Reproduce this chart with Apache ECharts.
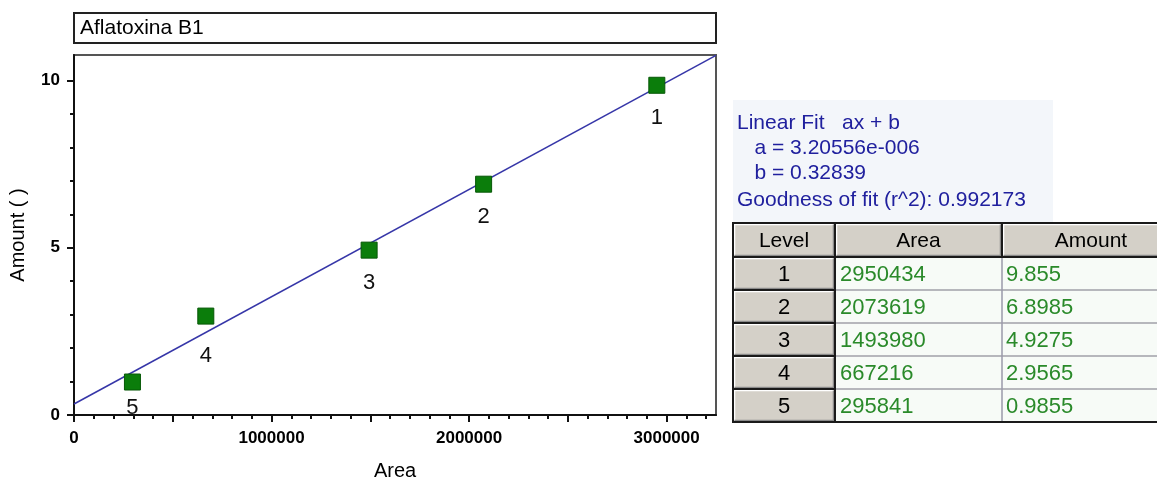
<!DOCTYPE html>
<html><head><meta charset="utf-8">
<script src="https://cdn.jsdelivr.net/npm/echarts@6/dist/echarts.min.js"></script>
<style>html,body{margin:0;padding:0;background:#fff;overflow:hidden}#c{width:1157px;height:486px}</style>
</head><body><div id="c"></div>
<script>
// ---- data ----
const chartTitle = 'Aflatoxina B1';
const levels = ['1', '2', '3', '4', '5'];
const areas = [2950434, 2073619, 1493980, 667216, 295841];
const amounts = [9.855, 6.8985, 4.9275, 2.9565, 0.9855];
const fitLine = [[0, 0.32839], [3250000, 10.7465]];
const fitText = ['Linear Fit   ax + b', '   a = 3.20556e-006', '   b = 0.32839', 'Goodness of fit (r^2): 0.992173'];
const tableHeader = ['Level', 'Area', 'Amount'];
const xTickLabels = [0, 1000000, 2000000, 3000000];
const yTickLabels = [0, 5, 10];
const xMajorTicks = [0, 500000, 1000000, 1500000, 2000000, 2500000, 3000000];
const xMinorTicks = [100000, 200000, 300000, 400000, 600000, 700000, 800000, 900000, 1100000, 1200000, 1300000, 1400000, 1600000, 1700000, 1800000, 1900000, 2100000, 2200000, 2300000, 2400000, 2600000, 2700000, 2800000, 2900000, 3100000, 3200000];
const yMinorTicks = [1, 2, 3, 4, 6, 7, 8, 9];
const xName = 'Area';
const yName = 'Amount ( )';

// ---- styling ----
const FONT = 'Liberation Sans, Arial, sans-serif';
const X_MAX = 3250000, Y_MAX = 10.76;
const labelDistance = { 3: 20, 4: 6 }; // per-index tweak of label distance
const chart = echarts.init(document.getElementById('c'), null, { renderer: 'canvas' });

const graphics = [];
// title box
graphics.push({ type: 'rect', shape: { x: 74, y: 13, width: 642, height: 30 }, style: { fill: '#fff', stroke: '#222', lineWidth: 2 }, z: 1 });
graphics.push({ type: 'text', x: 80, y: 28, style: { text: chartTitle, font: '21px ' + FONT, fill: '#000', verticalAlign: 'middle' }, z: 2 });
// fit panel
graphics.push({ type: 'rect', shape: { x: 733, y: 100, width: 320, height: 122 }, style: { fill: '#f3f6fa' }, z: 1 });
const fitY = [123, 148, 173, 200];
fitText.forEach((t, i) => graphics.push({ type: 'text', x: 737, y: fitY[i], style: { text: t, font: '21px ' + FONT, fill: '#20209e', verticalAlign: 'middle' }, z: 2 }));

// table
const colX = [733, 835, 1002, 1180];
const headTop = 223, headH = 34, rowH = 33;
const tableBottom = headTop + headH + rowH * levels.length;
function raised(x, y, w, h) {
  graphics.push({ type: 'rect', shape: { x: x, y: y, width: w, height: h }, style: { fill: '#d4d0c8' }, z: 3 });
  graphics.push({ type: 'polyline', shape: { points: [[x + 1.5, y + h - 1.5], [x + 1.5, y + 1.5], [x + w - 1.5, y + 1.5]] }, style: { stroke: '#ffffff', lineWidth: 1.5, fill: null }, z: 4 });
  graphics.push({ type: 'polyline', shape: { points: [[x + 1.5, y + h - 1.5], [x + w - 1.5, y + h - 1.5], [x + w - 1.5, y + 1.5]] }, style: { stroke: '#8a8a8a', lineWidth: 1.5, fill: null }, z: 4 });
}
// header
tableHeader.forEach((h, c) => {
  raised(colX[c], headTop, colX[c + 1] - colX[c], headH);
  graphics.push({ type: 'text', x: (colX[c] + colX[c + 1]) / 2, y: headTop + headH / 2 + 1, style: { text: h, font: '21px ' + FONT, fill: '#000', align: 'center', verticalAlign: 'middle' }, z: 6 });
});
// rows
levels.forEach((lv, r) => {
  const y = headTop + headH + r * rowH;
  raised(colX[0], y, colX[1] - colX[0], rowH);
  graphics.push({ type: 'text', x: (colX[0] + colX[1]) / 2, y: y + rowH / 2 + 1, style: { text: lv, font: '22px ' + FONT, fill: '#000', align: 'center', verticalAlign: 'middle' }, z: 6 });
  graphics.push({ type: 'rect', shape: { x: colX[1], y: y, width: colX[3] - colX[1], height: rowH }, style: { fill: '#f7fbf7' }, z: 3 });
  graphics.push({ type: 'text', x: colX[1] + 5, y: y + rowH / 2 + 1, style: { text: String(areas[r]), font: '22px ' + FONT, fill: '#2a8a2a', verticalAlign: 'middle' }, z: 6 });
  graphics.push({ type: 'text', x: colX[2] + 4, y: y + rowH / 2 + 1, style: { text: String(amounts[r]), font: '22px ' + FONT, fill: '#2a8a2a', verticalAlign: 'middle' }, z: 6 });
  // row separators
  graphics.push({ type: 'line', shape: { x1: colX[0], y1: y, x2: colX[1], y2: y }, style: { stroke: '#1a1a1a', lineWidth: 2 }, z: 5 });
  if (r > 0) graphics.push({ type: 'line', shape: { x1: colX[1], y1: y, x2: colX[3], y2: y }, style: { stroke: '#a0a0a8', lineWidth: 1.5 }, z: 5 });
});
// vertical separators
graphics.push({ type: 'line', shape: { x1: colX[2], y1: headTop + headH, x2: colX[2], y2: tableBottom }, style: { stroke: '#9a9aaa', lineWidth: 1.5 }, z: 5 });
graphics.push({ type: 'line', shape: { x1: colX[2], y1: headTop, x2: colX[2], y2: headTop + headH }, style: { stroke: '#1a1a1a', lineWidth: 2 }, z: 5 });
graphics.push({ type: 'line', shape: { x1: colX[1], y1: headTop, x2: colX[1], y2: tableBottom }, style: { stroke: '#1a1a1a', lineWidth: 2 }, z: 5 });
graphics.push({ type: 'line', shape: { x1: colX[0], y1: headTop + headH, x2: colX[3], y2: headTop + headH }, style: { stroke: '#1a1a1a', lineWidth: 2 }, z: 5 });
graphics.push({ type: 'rect', shape: { x: colX[0], y: headTop, width: colX[3] - colX[0], height: tableBottom - headTop }, style: { fill: null, stroke: '#1a1a1a', lineWidth: 2 }, z: 5 });

const axisText = { fontFamily: FONT, fontSize: 17, fontWeight: 'bold', color: '#000' };
const option = {
  animation: false,
  backgroundColor: '#fff',
  grid: { left: 74, right: 441, top: 55, bottom: 63, show: true, borderColor: '#555', borderWidth: 2, backgroundColor: '#fff' },
  xAxis: [
    {
      type: 'value', min: 0, max: X_MAX, position: 'bottom',
      name: xName, nameLocation: 'middle', nameGap: 46,
      nameTextStyle: { fontFamily: FONT, fontSize: 20, color: '#000' },
      axisLine: { show: true, onZero: false, lineStyle: { color: '#111', width: 2 } },
      axisTick: { show: true, length: 7, customValues: xMajorTicks, lineStyle: { color: '#111', width: 2 } },
      axisLabel: Object.assign({ customValues: xTickLabels, margin: 15, formatter: v => String(v) }, axisText),
      splitLine: { show: false }
    },
    {
      type: 'value', min: 0, max: X_MAX, position: 'bottom', gridIndex: 0,
      axisLine: { show: false, onZero: false },
      axisTick: { show: true, length: 4, customValues: xMinorTicks, lineStyle: { color: '#111', width: 2 } },
      axisLabel: { show: false }, splitLine: { show: false }
    }
  ],
  yAxis: [
    {
      type: 'value', min: 0, max: Y_MAX, position: 'left',
      name: yName, nameLocation: 'middle', nameGap: 46,
      nameTextStyle: { fontFamily: FONT, fontSize: 20, color: '#000' },
      axisLine: { show: true, onZero: false, lineStyle: { color: '#111', width: 2 } },
      axisTick: { show: true, length: 7, customValues: yTickLabels, lineStyle: { color: '#111', width: 2 } },
      axisLabel: Object.assign({ customValues: yTickLabels, margin: 14, formatter: v => String(v) }, axisText),
      splitLine: { show: false }
    },
    {
      type: 'value', min: 0, max: Y_MAX, position: 'left', gridIndex: 0,
      axisLine: { show: false, onZero: false },
      axisTick: { show: true, length: 4, customValues: yMinorTicks, lineStyle: { color: '#111', width: 2 } },
      axisLabel: { show: false }, splitLine: { show: false }
    }
  ],
  series: [
    {
      type: 'line', xAxisIndex: 0, yAxisIndex: 0, data: fitLine, symbol: 'none', silent: true,
      lineStyle: { color: '#3636a8', width: 1.5 }, z: 2, clip: true
    },
    {
      type: 'scatter', xAxisIndex: 0, yAxisIndex: 0, symbol: 'rect', symbolSize: 16, z: 3,
      itemStyle: { color: '#0b7d0b', borderColor: '#065806', borderWidth: 1, opacity: 1 },
      label: { show: true, position: 'bottom', distance: 13, fontFamily: FONT, fontSize: 22, color: '#111',
        formatter: p => levels[p.dataIndex] },
      data: areas.map((a, i) => {
        const item = { value: [a, amounts[i]] };
        if (labelDistance[i] !== undefined) item.label = { distance: labelDistance[i] };
        return item;
      })
    }
  ],
  graphic: graphics
};
chart.setOption(option);
</script>
</body></html>
